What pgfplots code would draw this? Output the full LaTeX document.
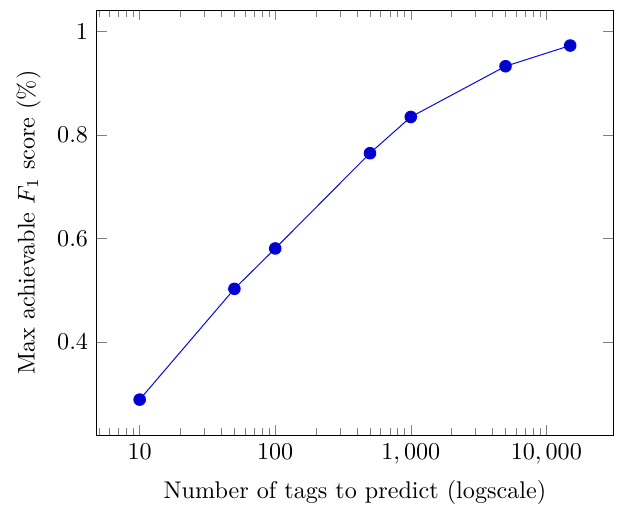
\documentclass[border={3.5pt 2pt 5.5pt 4pt}]{standalone}
\usepackage{pgfplots}
\pgfplotsset{compat=1.18}
\begin{document}
\begin{tikzpicture}
\begin{axis}[
    xmode=log,
    scale only axis,
    width=214pt, height=176pt,
    log ticks with fixed point,
    /pgf/number format/1000 sep={,},
    xlabel={Number of tags to predict (logscale)},
    ylabel={Max achievable $F_1$ score (\%)},
    ytick={0.4,0.6,0.8,1},
]
\addplot[blue, mark=*, mark size=2.4pt, mark options={fill=blue!80!black}] coordinates {
    (10, 0.289) (50, 0.503) (100, 0.581) (500, 0.765)
    (1000, 0.835) (5000, 0.933) (15000, 0.973)
};
\end{axis}
\end{tikzpicture}
\end{document}
